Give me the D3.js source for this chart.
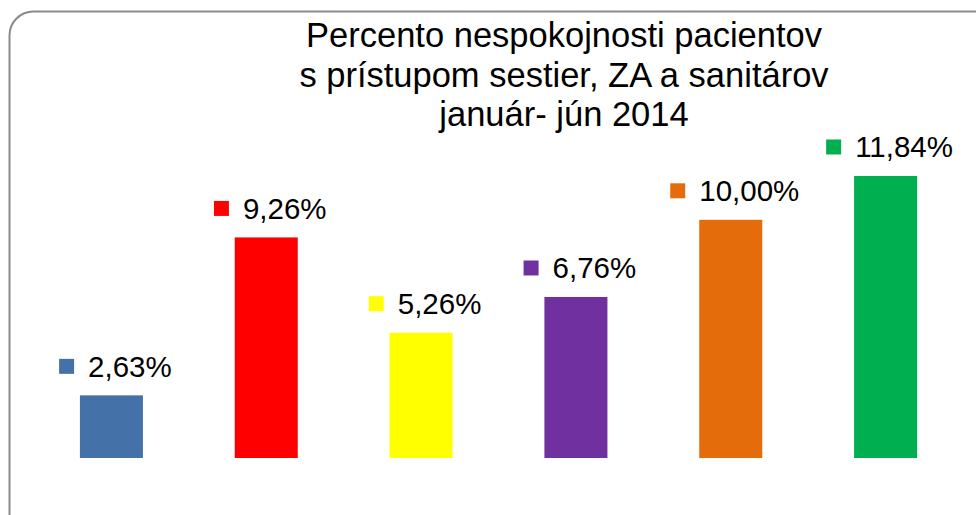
<!DOCTYPE html>
<html>
<head>
<meta charset="utf-8">
<script src="https://cdn.jsdelivr.net/npm/d3@7"></script>
<style>
  html, body { margin: 0; padding: 0; background: #fff; }
  svg { display: block; font-family: "Liberation Sans", Arial, sans-serif; }
</style>
</head>
<body>
<div id="chart"></div>
<script>
// data
const categories = ['A', 'B', 'C', 'D', 'E', 'F']
const values = [2.63, 9.26, 5.26, 6.76, 10.00, 11.84]
const colors = ['#4472a8', '#ff0000', '#ffff00', '#7030a0', '#e46c0a', '#00b050']
const titleLines = ['Percento nespokojnosti pacientov', 's prístupom sestier, ZA a sanitárov', 'január- jún 2014']

const width = 976
const height = 515
const baseY = 458

const svg = d3.select('#chart')
  .append('svg')
    .attr('width', width)
    .attr('height', height)

// rounded frame, runs off the right and bottom edge
svg.append('rect')
  .attr('x', 9.5)
  .attr('y', 11.5)
  .attr('width', 1000)
  .attr('height', 540)
  .attr('rx', 24)
  .attr('ry', 24)
  .attr('fill', '#fff')
  .attr('stroke', '#8a8a8a')
  .attr('stroke-width', 2)

// title
svg.append('text')
  .attr('text-anchor', 'middle')
  .attr('font-size', 34.5)
  .attr('fill', '#000')
  .selectAll('tspan')
  .data(titleLines)
  .join('tspan')
    .attr('x', 564)
    .attr('y', (d, i) => 47 + i * 39.5)
    .text(d => d)

const x = d3.scaleBand()
  .domain(categories)
  .range([34, 963])
  .paddingInner(0.593)
  .paddingOuter(0.2965)

const y = d3.scaleLinear()
  .domain([0, 12])
  .range([baseY, baseY - 12 * 23.82])

const data = categories.map((c, i) => ({ cat: c, value: values[i], color: colors[i] }))

// bars
svg.append('g')
  .selectAll('rect')
  .data(data)
  .join('rect')
    .attr('x', d => x(d.cat))
    .attr('y', d => y(d.value))
    .attr('width', x.bandwidth())
    .attr('height', d => y(0) - y(d.value))
    .attr('fill', d => d.color)

// value labels with a colour key in front
const fmt = v => v.toFixed(2).replace('.', ',') + '%'
const labels = svg.append('g')
  .selectAll('g')
  .data(data)
  .join('g')

labels.each(function (d) {
  const g = d3.select(this)
  const t = g.append('text')
    .attr('font-size', 29.5)
    .attr('fill', '#000')
    .text(fmt(d.value))
  const tw = t.node().getComputedTextLength()
  const total = 15 + 14 + tw
  const left = x(d.cat) + x.bandwidth() / 2 + 4 - total / 2
  const base = y(d.value) - 18.5
  g.append('rect')
    .attr('x', left)
    .attr('y', base - 18)
    .attr('width', 15)
    .attr('height', 15)
    .attr('fill', d.color)
  t.attr('x', left + 29).attr('y', base)
})
</script>
</body>
</html>
